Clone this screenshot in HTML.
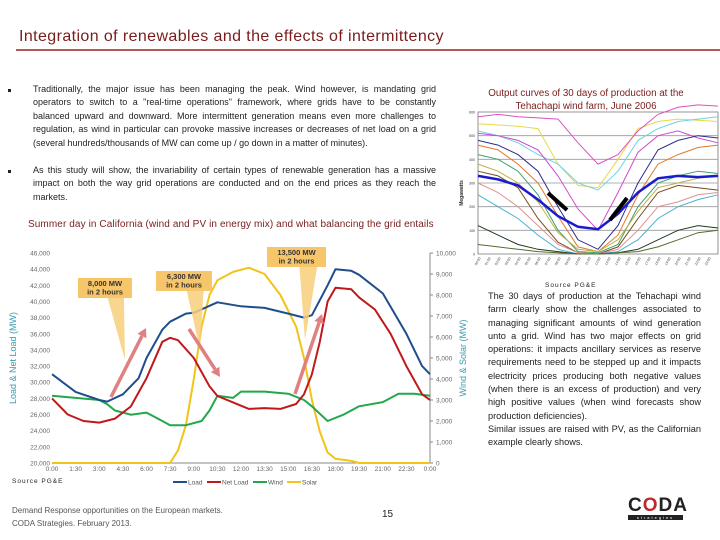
<!DOCTYPE html>
<html><head><meta charset="utf-8">
<style>
html,body{margin:0;padding:0;background:#fff;}
body{width:720px;height:540px;position:relative;overflow:hidden;font-family:"Liberation Sans",sans-serif;}
.abs{position:absolute;}
#title{left:19px;top:28px;font-size:16px;color:#7a1c1c;letter-spacing:0.4px;}
#rule{left:16px;top:49px;width:704px;height:2px;background:#b05a5a;}
.bul{font-size:9px;color:#222;line-height:13.4px;text-align:justify;width:403px;left:33px;}
.dot{left:8px;width:3px;height:3px;background:#222;}
#rtext{left:488px;top:290px;width:213px;font-size:9.2px;line-height:13.3px;color:#222;text-align:justify;}
#sub{left:28px;top:219px;font-size:10px;color:#7a1c1c;letter-spacing:0.1px;}
#rtitle{left:466px;top:87px;width:240px;text-align:center;font-size:9.8px;color:#7a1c1c;line-height:13px;}
.small{font-size:6.5px;color:#222;letter-spacing:1px;}
#foot{left:12px;top:504px;font-size:8px;color:#555;line-height:13px;}
#pnum{left:382px;top:509px;font-size:10px;color:#222;}
</style></head>
<body>
<div id="title" class="abs">Integration of renewables and the effects of intermittency</div>
<div id="rule" class="abs"></div>
<div class="abs dot" style="top:89px"></div>
<div class="abs bul" style="top:83px">Traditionally, the major issue has been managing the peak. Wind however, is mandating grid operators to switch to a "real-time operations" framework, where grids have to be constantly balanced upward and downward. More intermittent generation means even more challenges to regulation, as wind in particular can provoke massive increases or decreases of net load on a grid (several hundreds/thousands of MW can come up / go down in a matter of minutes).</div>
<div class="abs dot" style="top:170px"></div>
<div class="abs bul" style="top:164px">As this study will show, the invariability of certain types of renewable generation has a massive impact on both the way grid operations are conducted and on the end prices as they reach the markets.</div>
<div id="sub" class="abs">Summer day in California (wind and PV in energy mix) and what balancing the grid entails</div>
<div id="rtitle" class="abs">Output curves of 30 days of production at the<br>Tehachapi wind farm, June 2006</div>
<div class="abs small" style="left:545px;top:282px">Source PG&amp;E</div>
<div class="abs small" style="left:12px;top:478px">Source PG&amp;E</div>
<div id="rtext" class="abs">The 30 days of production at the Tehachapi wind farm clearly show the challenges associated to managing significant amounts of wind generation unto a grid. Wind has two major effects on grid operations: it impacts ancillary services as reserve requirements need to be stepped up and it impacts electricity prices producing both negative values (when there is an excess of production) and very high positive values (when wind forecasts show production deficiencies).<br>Similar issues are raised with PV, as the Californian example clearly shows.</div>
<div id="foot" class="abs">Demand Response opportunities on the European markets.<br>CODA Strategies. February 2013.</div>
<div id="pnum" class="abs">15</div>
<div class="abs" style="left:628px;top:496px;width:55px;">
<div style="font-size:19px;font-weight:bold;color:#222;letter-spacing:1px;line-height:19px;text-align:center">C<span style="color:#c0282d">O</span>DA</div>
<div style="background:#222;color:#fff;font-size:4px;text-align:center;letter-spacing:2px;height:5px;line-height:5px">strategies</div>
</div>

<svg id="main" class="abs" style="left:0;top:0" width="720" height="540"></svg>

<script>
// ---------- Main chart data ----------
const loadT = [0,1.5,3,3.5,4.5,5.5,6,7,7.5,8.5,9,10.5,12,13.5,15,16,16.5,17.5,18,19,19.5,21,22.5,23.5,24];
const loadV = [31000,28800,27800,27600,28500,30500,33000,36500,37500,38500,38600,39900,39400,39200,38500,38000,38300,42000,44000,43800,43300,41000,36000,32000,31000];
const netT = [0,1,2,3,4,5,6,7,7.5,8,9,10,10.5,11.5,12.5,13.5,14.5,15.5,16,16.5,17,17.5,18,19,19.5,20.5,21.5,22.5,23.5,24];
const netV = [28000,26000,25200,25000,25500,27000,30500,35000,35500,35200,33000,29500,28300,27500,26700,26800,26700,27300,28500,31000,35000,40000,41700,41500,40500,39000,36000,32000,28500,27800];
const windT = [0,1.5,3,3.5,4,5,6,7,7.5,8.5,9.5,10,10.5,11.5,12,13.5,15,16,16.5,17.5,18.5,19.5,21,22,23,24];
const windV = [3200,3100,3000,2800,2500,2300,2400,2000,1800,1800,2000,2500,3200,3100,3400,3400,3300,3000,2700,2000,2300,2700,2900,3300,3300,3200];
const solarT = [0,7.5,8,8.5,9,9.5,10,10.5,11.5,12.5,13.5,14.5,15.5,16,16.5,17,17.5,18,19,19.5,24];
const solarV = [0,0,600,1800,4000,6500,8000,8700,9100,9300,9000,8000,6500,5000,3000,1500,500,200,100,0,0];
const leftTicks = [20000,22000,24000,26000,28000,30000,32000,34000,36000,38000,40000,42000,44000,46000];
const rightTicks = [0,1000,2000,3000,4000,5000,6000,7000,8000,9000,10000];
const xTicks = ["0:00","1:30","3:00","4:30","6:00","7:30","9:00","10:30","12:00","13:30","15:00","16:30","18:00","19:30","21:00","22:30","0:00"];

// ---------- Right chart data ----------
const rX = [0,2,4,6,8,10,12,14,16,18,20,22,24];
const rSeries = [
 [550,545,540,530,380,290,280,400,530,560,570,565,560],
 [520,500,470,420,380,300,270,350,480,530,560,570,580],
 [510,500,480,440,330,190,100,260,430,500,520,490,470],
 [480,460,420,350,200,60,20,120,300,440,480,500,490],
 [460,440,380,300,160,30,10,80,250,380,420,450,460],
 [420,400,350,250,100,10,5,40,200,300,330,350,340],
 [380,350,300,220,90,20,10,60,180,280,300,320,330],
 [350,330,280,150,50,5,0,30,150,260,290,280,270],
 [300,260,200,120,40,5,0,20,100,200,220,250,260],
 [250,200,150,80,20,0,0,10,60,150,200,230,250],
 [120,80,40,20,10,0,0,5,20,60,100,120,110],
 [40,30,20,10,5,0,0,5,10,30,60,90,100],
 [580,590,580,575,570,470,380,420,520,590,620,630,625]
];
const rColors = ["#e6d84a","#6fd3e0","#d04ad0","#2c2c8c","#e07a2a","#3aa070","#c0b040","#7a4a20","#e09090","#4ab0d0","#1f3a1f","#556b2f","#e050c0"];
const rAvg = [330,315,290,230,160,115,105,170,260,320,330,325,330];
const rYTicks = [0,100,200,300,400,500,600];

const NS = "http://www.w3.org/2000/svg";
const svg = document.getElementById("main");
function mk(tag, attrs, parent){ const e=document.createElementNS(NS,tag); for(const k in attrs) e.setAttribute(k,attrs[k]); (parent||svg).appendChild(e); return e; }

const X0=52, X1=430, YT=253, YB=463;
const xs = h => X0 + (X1-X0)*h/24;
const yl = v => YB - (YB-YT)*(v-20000)/26000;
const yr = v => YB - (YB-YT)*v/10000;

const g = mk("g",{});



let ax = mk("line",{x1:X0,y1:YB,x2:X1,y2:YB,stroke:"#888","stroke-width":1},g);


let ra = mk("line",{x1:X1,y1:YT,x2:X1,y2:YB,stroke:"#888","stroke-width":1},g);



leftTicks.forEach(v=>{
  const t = mk("text",{x:X0-2,y:yl(v)+2.5,"font-size":6.5,fill:"#666","text-anchor":"end"},g);
  t.textContent = v.toLocaleString("en-US");
  
  
});
rightTicks.forEach(v=>{
  const t = mk("text",{x:X1+6,y:yr(v)+2.5,"font-size":6.5,fill:"#666"},g);
  t.textContent = v.toLocaleString("en-US");
  
  
  mk("line",{x1:X1,y1:yr(v),x2:X1+3,y2:yr(v),stroke:"#888"},g);
});
xTicks.forEach((s,i)=>{
  const t = mk("text",{x:xs(i*1.5),y:YB+8,"font-size":6.5,fill:"#666","text-anchor":"middle"},g);
  t.textContent = s;
  
  
});
let ylab = mk("text",{x:0,y:0,"font-size":9,fill:"#3a9ab0","text-anchor":"middle",transform:`translate(16,${(YT+YB)/2}) rotate(-90)`},g);
ylab.textContent="Load & Net Load (MW)";


let yrl = mk("text",{x:0,y:0,"font-size":9,fill:"#3a9ab0","text-anchor":"middle",transform:`translate(466,${(YT+YB)/2}) rotate(-90)`},g);
yrl.textContent="Wind & Solar (MW)";



function series(T,V,fy,color,name){
  const d = T.map((t,i)=>(i?"L":"M")+xs(t).toFixed(1)+","+fy(V[i]).toFixed(1)).join("");
  const p = mk("path",{d:d,fill:"none",stroke:color,"stroke-width":2,"stroke-linejoin":"round"},g);
  
  
}
series(solarT,solarV,yr,"#f2c318","solar-line");
series(windT,windV,yr,"#22a84a","wind-line");
series(netT,netV,yl,"#c0181c","net-load-line");
series(loadT,loadV,yl,"#1f4e8c","load-line");

function callout(bx,by,bw,bh,px,py,txt,name){
  const cg = mk("g",{},g);
  
  
  mk("polygon",{points:`${bx+bw*0.55},${by+bh} ${bx+bw*0.85},${by+bh} ${px},${py}`,fill:"#f8cf7a",opacity:0.85},cg);
  mk("rect",{x:bx,y:by,width:bw,height:bh,fill:"#f8c66a"},cg);
  txt.forEach((s,i)=>{ const t=mk("text",{x:bx+bw/2,y:by+8+i*8.5,"font-size":7.5,"font-weight":"bold",fill:"#333","text-anchor":"middle"},cg); t.textContent=s; });
}
callout(78,278,54,20,125,360,["8,000 MW","in 2 hours"],"callout-8000mw");
callout(156,271,56,20,200,350,["6,300 MW","in 2 hours"],"callout-6300mw");
callout(267,247,59,20,305,340,["13,500 MW","in 2 hours"],"callout-13500mw");

function arrow(x1,y1,x2,y2,name){
  const a = mk("g",{},g);
  
  
  const ang=Math.atan2(y2-y1,x2-x1), L=9;
  const bx=x2-L*Math.cos(ang), by=y2-L*Math.sin(ang);
  mk("line",{x1:x1,y1:y1,x2:bx,y2:by,stroke:"#e08080","stroke-width":3.5},a);
  const nx=-Math.sin(ang)*5, ny=Math.cos(ang)*5;
  mk("polygon",{points:`${x2},${y2} ${bx+nx},${by+ny} ${bx-nx},${by-ny}`,fill:"#e08080"},a);
}
arrow(111,397,146,328,"ramp-arrow-1");
arrow(189,329,220,377,"ramp-arrow-2");
arrow(295,394,322,314,"ramp-arrow-3");

const leg=[["Load","#1f4e8c",188],["Net Load","#c0181c",222],["Wind","#22a84a",268],["Solar","#f2c318",302]];
leg.forEach(l=>{
  const lg=mk("g",{},g);
  
  
  mk("line",{x1:l[2]-15,y1:482,x2:l[2]-1,y2:482,stroke:l[1],"stroke-width":2},lg);
  const t=mk("text",{x:l[2],y:484.5,"font-size":6.5,fill:"#555"},lg); t.textContent=l[0];
});

const RX0=478, RX1=718, RYT=112, RYB=254;
const rxs = h => RX0+(RX1-RX0)*h/24;
const rys = v => RYB-(RYB-RYT)*v/600;
const rg = mk("g",{});


mk("rect",{x:RX0,y:RYT,width:RX1-RX0,height:RYB-RYT,fill:"#fff",stroke:"#777","stroke-width":0.8},rg);
rYTicks.forEach(v=>{
  mk("line",{x1:RX0,y1:rys(v),x2:RX1,y2:rys(v),stroke:"#999","stroke-width":0.8},rg);
  const t=mk("text",{x:RX0-3,y:rys(v)+1.5,"font-size":3.5,fill:"#333","text-anchor":"end"},rg); t.textContent=v;
  
  
});
let mw=mk("text",{x:0,y:0,"font-size":5,"font-weight":"bold",fill:"#333","text-anchor":"middle",transform:`translate(463,${(RYT+RYB)/2+10}) rotate(-90)`},rg);
mw.textContent="Megawatts";


for(let i=0;i<24;i++){
  const t=mk("text",{x:0,y:0,"font-size":3.5,fill:"#444",transform:`translate(${rxs(i)+3},${RYB+4}) rotate(-60)`,"text-anchor":"end"},rg);
  t.textContent=(i<10?"0":"")+i+":00";
}
rSeries.forEach((s,k)=>{
  const d=s.map((v,i)=>(i?"L":"M")+rxs(rX[i]).toFixed(1)+","+rys(v).toFixed(1)).join("");
  const p=mk("path",{d:d,fill:"none",stroke:rColors[k],"stroke-width":1},rg);
  
  
});
const avgD=rAvg.map((v,i)=>(i?"L":"M")+rxs(rX[i]).toFixed(1)+","+rys(v).toFixed(1)).join("");
let ap=mk("path",{d:avgD,fill:"none",stroke:"#1a1ad0","stroke-width":2.5},rg);


mk("line",{x1:548,y1:193,x2:567,y2:210,stroke:"#000","stroke-width":4},rg);
mk("line",{x1:610,y1:220,x2:627,y2:198,stroke:"#000","stroke-width":4},rg);
</script>
</body></html>
